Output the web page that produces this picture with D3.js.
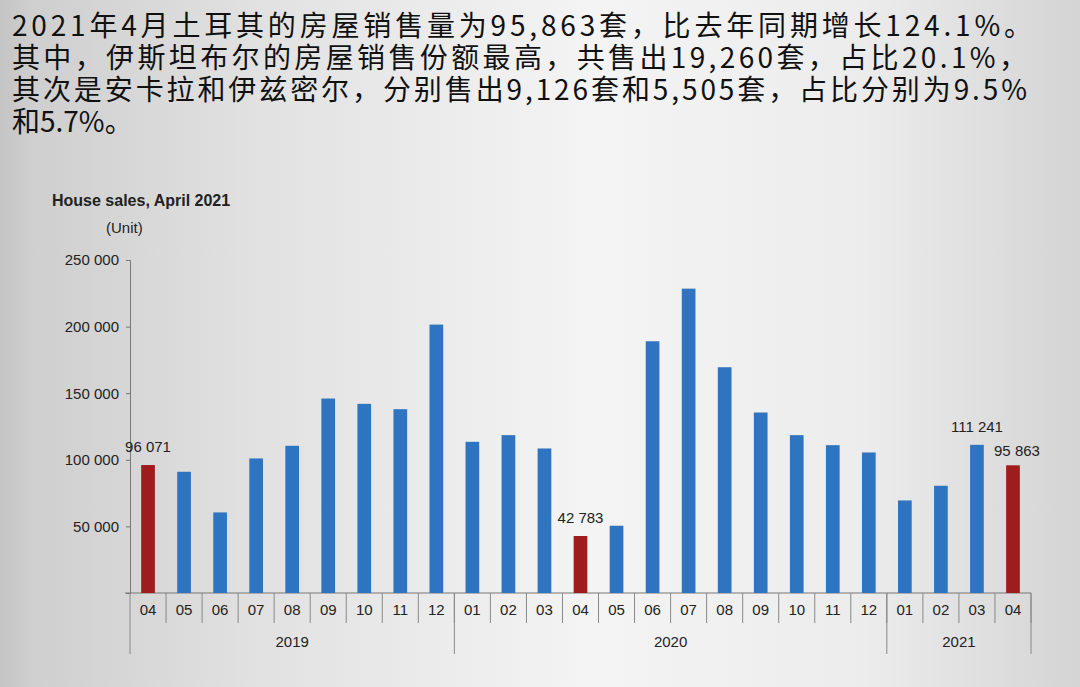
<!DOCTYPE html>
<html><head><meta charset="utf-8">
<script src="https://cdnjs.cloudflare.com/ajax/libs/d3/7.8.5/d3.min.js"></script>
<style>body{margin:0;overflow:hidden}</style>
</head><body><svg id="chart"></svg>
<script>
const months = ["04","05","06","07","08","09","10","11","12","01","02","03","04","05","06","07","08","09","10","11","12","01","02","03","04"];
const years = ["2019","2020","2021"];
const yearSpans = [9, 12, 4];
const sales = [96071, 91000, 60500, 101000, 110500, 146000, 142000, 138000, 201500,
  113500, 118500, 108500, 42783, 50500, 189000, 228500, 169500, 135500, 118500, 111000, 105500,
  69500, 80500, 111241, 95863];
const highlighted = {0: "96 071", 12: "42 783", 23: "111 241", 24: "95 863"};
const redIdx = [0, 12, 24];
const yTicks = [50000, 100000, 150000, 200000, 250000];
const titleLines = [
  "2021年4月土耳其的房屋销售量为95,863套，比去年同期增长124.1%。",
  "其中，伊斯坦布尔的房屋销售份额最高，共售出19,260套，占比20.1%，",
  "其次是安卡拉和伊兹密尔，分别售出9,126套和5,505套，占比分别为9.5%",
  "和5.7%。"
];

const W = 1080, H = 687;
const svg = d3.select("#chart").attr("width", W).attr("height", H);
const defs = svg.append("defs");
const g = defs.append("linearGradient").attr("id", "bg");
[[0, "#c4c4c4"], [0.03, "#cfcfcf"], [0.25, "#e2e2e2"], [0.55, "#f4f4f4"], [0.8, "#ececec"], [1, "#d4d4d4"]]
  .forEach(([o, c]) => g.append("stop").attr("offset", o).attr("stop-color", c));
svg.append("rect").attr("width", W).attr("height", H).attr("fill", "url(#bg)");

const fmt = v => d3.format(",")(v).replace(/,/g, " ");

const x = d3.scaleBand().domain(d3.range(months.length)).range([130, 1031]).paddingInner(0.62).paddingOuter(0.31);
const y = d3.scaleLinear().domain([0, 250000]).range([593, 260]);

svg.selectAll(".t").data(titleLines).enter().append("text")
  .attr("x", 12).attr("y", (d, i) => 36 + i * 32)
  .attr("font-family", "Noto Sans CJK SC").attr("font-size", 28).attr("fill", "#111")
  .attr("textLength", (d, i) => [1020, 1015, 1015, null][i])
  .text(d => d);
svg.selectAll("text").filter(function () { return this.getAttribute("textLength") === null; }).attr("textLength", null);

const lab = "Liberation Sans, Arial, sans-serif";
svg.append("text").attr("x", 52).attr("y", 206).attr("font-family", lab).attr("font-size", 16)
  .attr("font-weight", "bold").attr("fill", "#222").text("House sales, April 2021");
svg.append("text").attr("x", 106).attr("y", 233).attr("font-family", lab).attr("font-size", 15)
  .attr("fill", "#222").text("(Unit)");

const ya = svg.append("g").attr("transform", "translate(130,0)")
  .call(d3.axisLeft(y).tickValues(yTicks).tickFormat(fmt).tickSize(4));
ya.select(".domain").attr("stroke", "#777");
ya.selectAll("line").attr("stroke", "#777");
ya.selectAll("text").attr("font-family", lab).attr("font-size", 15).attr("fill", "#222").attr("dx", -4);

svg.append("line").attr("x1", 125).attr("x2", 1031).attr("y1", 593).attr("y2", 593).attr("stroke", "#777");
const step = x.step();
months.forEach((m, i) => {
  const x0 = 130 + i * step;
  svg.append("line").attr("x1", x0 + step).attr("x2", x0 + step).attr("y1", 593).attr("y2", 623).attr("stroke", "#888");
  svg.append("text").attr("x", x0 + step / 2).attr("y", 615).attr("text-anchor", "middle")
    .attr("font-family", lab).attr("font-size", 15).attr("fill", "#222").text(m);
});
let acc = 0;
svg.append("line").attr("x1", 130).attr("x2", 130).attr("y1", 593).attr("y2", 654).attr("stroke", "#888");
years.forEach((yr, k) => {
  const s = 130 + acc * step, e = 130 + (acc + yearSpans[k]) * step;
  svg.append("line").attr("x1", e).attr("x2", e).attr("y1", 593).attr("y2", 654).attr("stroke", "#888");
  svg.append("text").attr("x", (s + e) / 2).attr("y", 647).attr("text-anchor", "middle")
    .attr("font-family", lab).attr("font-size", 15).attr("fill", "#222").text(yr);
  acc += yearSpans[k];
});

svg.selectAll(".bar").data(sales).enter().append("rect")
  .attr("x", (d, i) => x(i)).attr("width", x.bandwidth())
  .attr("y", d => y(d)).attr("height", d => 593 - y(d))
  .attr("fill", (d, i) => redIdx.includes(i) ? "#9e1c1c" : "#2f74c0");

Object.entries(highlighted).forEach(([i, t]) => {
  i = +i;
  svg.append("text").attr("x", x(i) + x.bandwidth() / 2 + (i === 24 ? 4 : 0)).attr("y", y(sales[i]) - (i === 24 ? 9 : 13))
    .attr("text-anchor", "middle").attr("font-family", lab).attr("font-size", 15).attr("fill", "#222").text(t);
});
</script></body></html>
